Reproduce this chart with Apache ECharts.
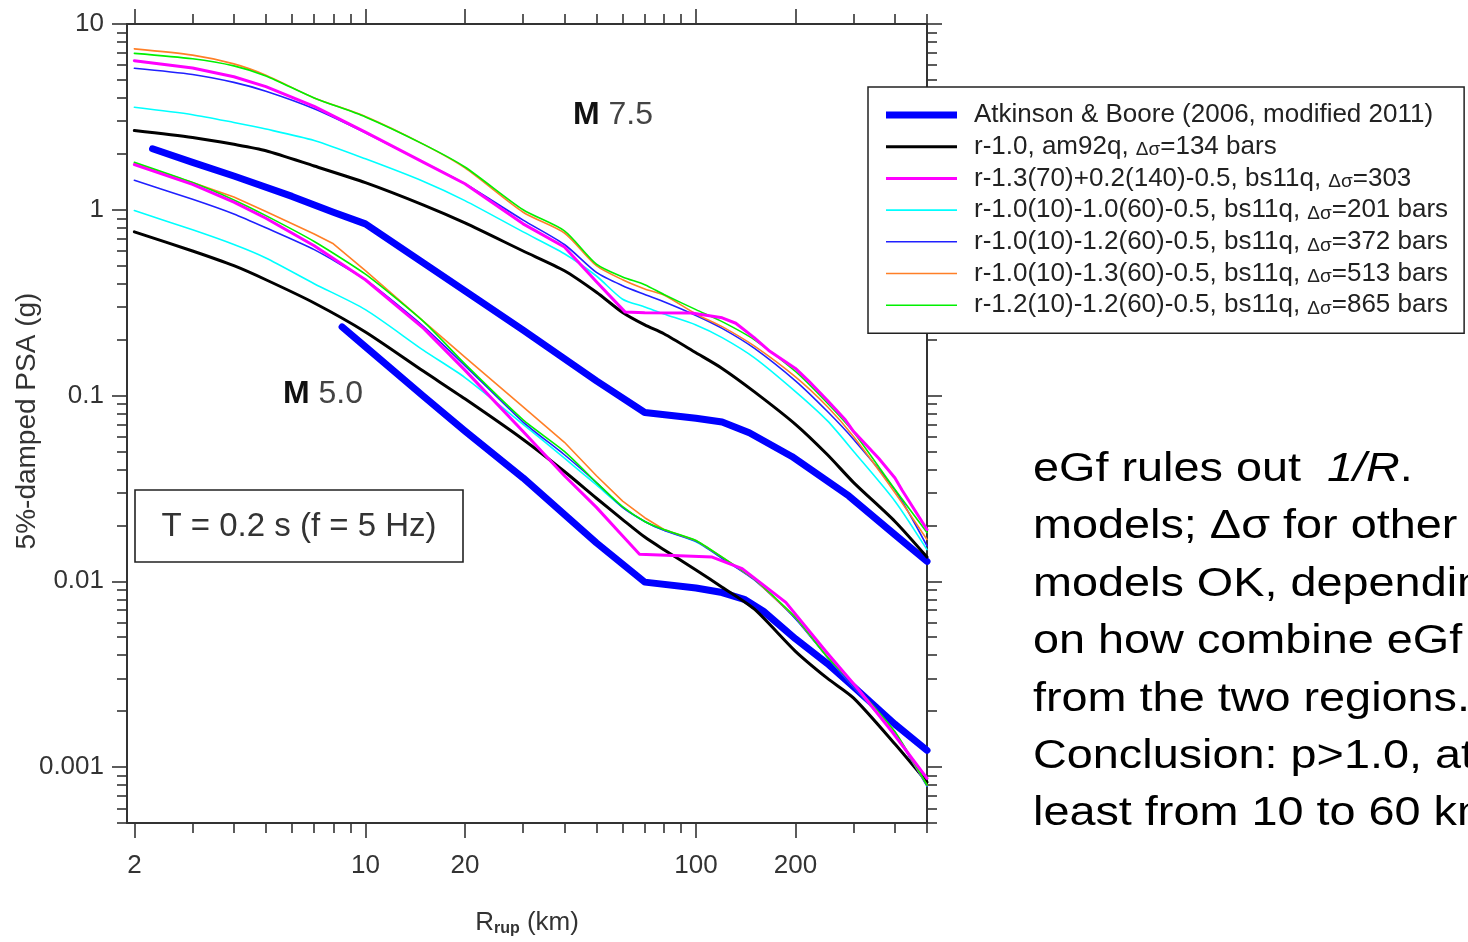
<!DOCTYPE html>
<html><head><meta charset="utf-8">
<script src="https://cdn.jsdelivr.net/npm/echarts@6/dist/echarts.min.js"></script>
<style>html,body{margin:0;padding:0;background:#fff}#c{width:1468px;height:942px}</style>
</head><body><div id="c"></div>
<script>
// ---------------- data ----------------
const NAMES = [
  'Atkinson & Boore (2006, modified 2011)',
  'r-1.0, am92q, Δσ=134 bars',
  'r-1.3(70)+0.2(140)-0.5, bs11q, Δσ=303',
  'r-1.0(10)-1.0(60)-0.5, bs11q, Δσ=201 bars',
  'r-1.0(10)-1.2(60)-0.5, bs11q, Δσ=372 bars',
  'r-1.0(10)-1.3(60)-0.5, bs11q, Δσ=513 bars',
  'r-1.2(10)-1.2(60)-0.5, bs11q, Δσ=865 bars'
];
const R_STD = [2,3,4,5,7,10,15,20,30,40,50,60,70,80,100,120,150,200,250,300,400,500];

// M 7.5
const AB75_R = [2.27,3,4,6,8,10,20,30,50,70,100,120,145,195,290,400,500];
const AB75_V = [2.13,1.8,1.52,1.18,0.97,0.84,0.366,0.225,0.12,0.081,0.0755,0.072,0.063,0.047,0.0288,0.0178,0.0128];
const BLACK75_V = [2.67,2.45,2.25,2.08,1.72,1.40,1.06,0.85,0.60,0.47,0.36,0.28,0.24,0.215,0.17,0.14,0.105,0.07,0.048,0.034,0.021,0.0135];
const MAG75_R = [2,3,4,5,7,10,15,20,30,40,50,61,70,97,120,132,150,166,200,219,250,283,300,357,400,420,500];
const MAG75_V = [6.35,5.8,5.2,4.6,3.6,2.62,1.8,1.38,0.84,0.63,0.41,0.282,0.279,0.278,0.262,0.245,0.205,0.175,0.14,0.12,0.094,0.074,0.064,0.046,0.036,0.031,0.019];
const CYAN75_V = [3.56,3.25,2.95,2.72,2.36,1.88,1.42,1.12,0.76,0.58,0.44,0.33,0.30,0.275,0.24,0.205,0.16,0.105,0.073,0.05,0.027,0.0148];
const BLUE75_V = [5.78,5.35,4.85,4.35,3.5,2.6,1.8,1.38,0.88,0.65,0.46,0.39,0.35,0.32,0.27,0.23,0.18,0.12,0.082,0.058,0.031,0.0155];
const ORANGE75_V = [7.35,6.8,6.1,5.3,4.0,3.18,2.25,1.68,0.97,0.75,0.50,0.42,0.375,0.348,0.275,0.235,0.185,0.126,0.087,0.06,0.03,0.0168];
const GREEN75_V = [6.95,6.5,5.95,5.25,4.0,3.16,2.25,1.70,1.0,0.77,0.51,0.435,0.395,0.35,0.29,0.25,0.2,0.135,0.091,0.0635,0.0312,0.0183];

// M 5.0
const AB50_R = [8.5,10,15,20,30,50,70,100,120,140,160,200,250,300,400,500];
const AB50_V = [0.234,0.183,0.099,0.0644,0.036,0.0161,0.0099,0.0092,0.0087,0.008,0.0069,0.0049,0.0036,0.0027,0.0017,0.00123];
const BLACK50_V = [0.76,0.60,0.50,0.42,0.315,0.22,0.135,0.096,0.058,0.039,0.028,0.0215,0.0173,0.0148,0.0115,0.0093,0.0071,0.0042,0.003,0.00235,0.00133,0.00083];
const MAG50_R = [2,3,4,5,7,10,15,20,30,40,50,58.7,67.5,112,138,187,247,311,393,500];
const MAG50_V = [1.75,1.37,1.1,0.9,0.64,0.42,0.23,0.137,0.064,0.037,0.025,0.0183,0.014,0.0135,0.0117,0.0077,0.0042,0.0026,0.00154,0.00087];
const CYAN50_V = [0.99,0.78,0.65,0.55,0.40,0.29,0.175,0.125,0.07,0.046,0.033,0.025,0.021,0.0188,0.0163,0.0133,0.0102,0.0063,0.0039,0.0027,0.0015,0.00079];
const BLUE50_V = [1.44,1.14,0.95,0.80,0.61,0.42,0.235,0.145,0.072,0.048,0.034,0.025,0.021,0.0188,0.0164,0.0133,0.0102,0.0063,0.0039,0.0027,0.0015,0.00079];
const ORANGE50_R = [2,3,4,5,7,8,10,15,20,30,40,50,60,70,80,100,120,150,200,250,300,400,500];
const ORANGE50_V = [1.78,1.40,1.17,0.98,0.74,0.656,0.47,0.251,0.161,0.087,0.056,0.037,0.027,0.022,0.019,0.0166,0.0135,0.0103,0.0064,0.0039,0.0028,0.00155,0.0008];
const GREEN50_V = [1.80,1.40,1.13,0.93,0.675,0.45,0.25,0.148,0.074,0.05,0.034,0.0252,0.021,0.019,0.0166,0.0135,0.0103,0.0064,0.0039,0.0028,0.00155,0.0008];

// axis ticks
const X_MAJOR = [2,10,20,100,200];
const X_LABELS = ['2','10','20','100','200'];
const X_MINOR = [3,4,5,6,7,8,9,30,40,50,60,70,80,90,300,400,500];
const Y_MAJOR = [0.001,0.01,0.1,1,10];
const Y_LABELS = ['0.001','0.01','0.1','1','10'];
const Y_MINOR = [0.0005,0.0006,0.0007,0.0008,0.0009,
  0.002,0.003,0.004,0.005,0.006,0.007,0.008,0.009,
  0.02,0.03,0.04,0.05,0.06,0.07,0.08,0.09,
  0.2,0.3,0.4,0.5,0.6,0.7,0.8,0.9,
  2,3,4,5,6,7,8,9];

// ---------------- chart ----------------
const FONT = '"Liberation Sans", Arial, sans-serif';
const zip = (xs, ys) => xs.map((x, i) => [x, ys[i]]);
const STYLES = [
  {color:'#0000ff', width:7},
  {color:'#000000', width:3},
  {color:'#ff00ff', width:3},
  {color:'#00ffff', width:1.6},
  {color:'#2020ff', width:1.6},
  {color:'#ff7f27', width:1.6},
  {color:'#00f000', width:1.6}
];
// [style index, R array, PSA array, smoothing]
const SETS = [
  [0, AB75_R, AB75_V, 0], [0, AB50_R, AB50_V, 0],
  [1, R_STD, BLACK75_V, 0.25], [1, R_STD, BLACK50_V, 0.25],
  [3, R_STD, CYAN75_V, 0.25], [3, R_STD, CYAN50_V, 0.25],
  [4, R_STD, BLUE75_V, 0.25], [4, R_STD, BLUE50_V, 0.2],
  [5, R_STD, ORANGE75_V, 0.25], [5, ORANGE50_R, ORANGE50_V, 0],
  [6, R_STD, GREEN75_V, 0.25], [6, R_STD, GREEN50_V, 0.2],
  [2, MAG75_R, MAG75_V, 0], [2, MAG50_R, MAG50_V, 0]
];
const series = SETS.map(([k, xs, ys, sm]) => ({
  type:'line', name: NAMES[k], data: zip(xs, ys), symbol:'none', showSymbol:false,
  smooth: sm, xAxisIndex:0, yAxisIndex:0, animation:false, silent:true,
  z: k === 0 ? 1 : 2,
  lineStyle:{color:STYLES[k].color, width:STYLES[k].width, cap:'round', join:'round'},
  itemStyle:{color:STYLES[k].color}
}));

const AX = '#333';
const xBase = {type:'log', logBase:10, min:1.9, max:500, gridIndex:0,
  splitLine:{show:false}, axisLine:{show:false}, axisLabel:{show:false}, axisTick:{show:false}};
const yBase = {type:'log', logBase:10, min:0.0005, max:10, gridIndex:0,
  splitLine:{show:false}, axisLine:{show:false}, axisLabel:{show:false}, axisTick:{show:false}};
const tickMajor = vals => ({show:true, customValues: vals, length:15, lineStyle:{color:AX, width:1.6}});
const tickMinor = vals => ({show:true, customValues: vals, length:10, lineStyle:{color:AX, width:1.6}});
const line = {show:true, onZero:false, lineStyle:{color:AX, width:2}};

const nearestLabel = (vals, labels, v) => {
  let best = 0;
  vals.forEach((t, i) => { if (Math.abs(Math.log10(t) - Math.log10(v)) < Math.abs(Math.log10(vals[best]) - Math.log10(v))) best = i; });
  return labels[best];
};
const iconPath = w => 'path://M0,0L71,0L71,' + w + 'L0,' + w + 'Z';

const option = {
  animation:false,
  backgroundColor:'#fff',
  grid:{left:127, top:24, width:800, height:799, containLabel:false},
  xAxis:[
    {...xBase, position:'bottom', axisLine:line, axisTick:tickMajor(X_MAJOR),
      axisLabel:{show:true, customValues:X_MAJOR, margin:30, fontFamily:FONT, fontSize:26, color:'#333',
        formatter: v => nearestLabel(X_MAJOR, X_LABELS, v)}},
    {...xBase, position:'bottom', axisTick:tickMinor(X_MINOR)},
    {...xBase, position:'top', axisLine:line, axisTick:tickMajor(X_MAJOR)},
    {...xBase, position:'top', axisTick:tickMinor(X_MINOR)}
  ],
  yAxis:[
    {...yBase, position:'left', axisLine:line, axisTick:tickMajor(Y_MAJOR),
      axisLabel:{show:true, customValues:Y_MAJOR, margin:23, fontFamily:FONT, fontSize:26, color:'#333',
        formatter: v => nearestLabel(Y_MAJOR, Y_LABELS, v)}},
    {...yBase, position:'left', axisTick:tickMinor(Y_MINOR)},
    {...yBase, position:'right', axisLine:line, axisTick:tickMajor(Y_MAJOR)},
    {...yBase, position:'right', axisTick:tickMinor(Y_MINOR)}
  ],
  legend:{
    show:true, left:868, top:87, orient:'vertical', selectedMode:false,
    backgroundColor:'#fff', borderColor:'#222', borderWidth:1.5, borderRadius:0,
    padding:[15,16,15,18], itemWidth:71, itemHeight:14, itemGap:5.7, symbolKeepAspect:true,
    data: NAMES.map((n, k) => ({name:n, icon: iconPath(STYLES[k].width), itemStyle:{color:STYLES[k].color, borderWidth:0}})),
    formatter: n => n.replace('Δσ', '{d|Δσ}'),
    textStyle:{fontFamily:FONT, fontSize:26, lineHeight:26, color:'#222', padding:[0,0,0,12],
      rich:{d:{fontFamily:FONT, fontSize:19, lineHeight:26, color:'#222', verticalAlign:'bottom'}}}
  },
  graphic:[
    {type:'text', x:573, y:115, style:{text:'{b|M}{n| 7.5}', verticalAlign:'middle', align:'left',
      rich:{b:{fontFamily:FONT, fontSize:32, fontWeight:'bold', fill:'#111'}, n:{fontFamily:FONT, fontSize:32, fill:'#444'}}}},
    {type:'text', x:283, y:394, style:{text:'{b|M}{n| 5.0}', verticalAlign:'middle', align:'left',
      rich:{b:{fontFamily:FONT, fontSize:32, fontWeight:'bold', fill:'#111'}, n:{fontFamily:FONT, fontSize:32, fill:'#444'}}}},
    {type:'rect', shape:{x:135, y:490, width:328, height:72}, style:{fill:'#fff', stroke:'#222', lineWidth:1.6}, z:10},
    {type:'text', x:299, y:527, z:11, style:{text:'T = 0.2 s (f = 5 Hz)', align:'center', verticalAlign:'middle',
      fontFamily:FONT, fontSize:33, fill:'#333'}},
    {type:'text', x:527, y:923, style:{text:'{r|R}{s|rup}{r| (km)}', align:'center', verticalAlign:'middle',
      rich:{r:{fontFamily:FONT, fontSize:26, fill:'#333'}, s:{fontFamily:FONT, fontSize:16, fontWeight:'bold', fill:'#333', padding:[12,0,0,0]}}}},
    {type:'text', x:27, y:421, rotation:Math.PI/2, style:{text:'5%-damped PSA (g)', align:'center', verticalAlign:'middle',
      fontFamily:FONT, fontSize:28, fill:'#333'}},
    {type:'text', x:1033, y:441, scaleX:1.17, scaleY:1, style:{
      text:'{n|eGf rules out  }{i|1/R}{n|.}\n{n|models; Δσ for other}\n{n|models OK, depending}\n{n|on how combine eGf}\n{n|from the two regions.}\n{n|Conclusion: p>1.0, at}\n{n|least from 10 to 60 km}',
      align:'left', verticalAlign:'top',
      rich:{n:{fontFamily:FONT, fontSize:40, lineHeight:57.45, fill:'#000'},
            i:{fontFamily:FONT, fontSize:40, lineHeight:57.45, fontStyle:'italic', fill:'#000'}}}}
  ],
  series
};
const chart = echarts.init(document.getElementById('c'), null, {renderer:'canvas'});
chart.setOption(option);
</script>
</body></html>
